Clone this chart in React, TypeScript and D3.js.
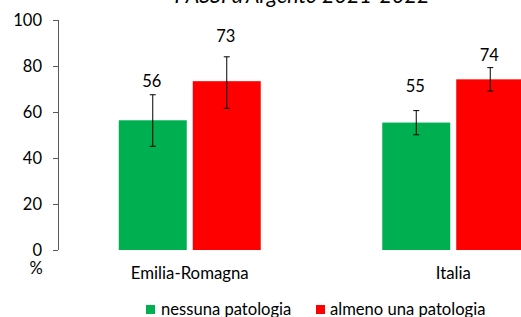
import React from 'react'
import * as d3 from 'd3'

// data
const areas = ['Emilia-Romagna', 'Italia']
const series = ['nessuna patologia', 'almeno una patologia']
const nessuna = [56.4, 55.4]
const almeno = [73.4, 74.2]
const nessunaLow = [45.1, 50.1]
const nessunaHigh = [67.5, 60.6]
const almenoLow = [61.6, 69.1]
const almenoHigh = [84.0, 79.3]
const yTicks = [0, 20, 40, 60, 80, 100]

const colors = ['#00B050', '#FF0000']
// extra lift of the value labels above the error bar top (px), as in the original
const labelLift = [[14, 21], [24, 12]]

const font = 'Lato, "Open Sans", sans-serif'

export default function App() {
  const W = 521
  const H = 317
  const margin = {top: 20, left: 58, bottom: 67}

  const y = d3.scaleLinear().domain([0, 100]).range([H - margin.bottom, margin.top])
  const x0 = d3.scaleBand().domain(areas).range([margin.left, 585])
  const half = 71
  const x1 = d3.scaleBand().domain(series)
    .range([x0.bandwidth() / 2 - half, x0.bandwidth() / 2 + half])
    .paddingInner(6 / 74)

  const rows = areas.map((a, i) => ({
    area: a,
    vals: [
      {s: series[0], v: nessuna[i], lo: nessunaLow[i], hi: nessunaHigh[i]},
      {s: series[1], v: almeno[i], lo: almenoLow[i], hi: almenoHigh[i]},
    ],
  }))

  return (
    <svg width={W} height={H} style={{position: 'absolute', left: 0, top: 0, fontFamily: font}}>
      <rect width={W} height={H} fill="#fff" />
      <text x={302} y={3} textAnchor="middle" fontSize={21.5} fontStyle="italic" fill="#000">
        PASSI d'Argento 2021-2022
      </text>

      {/* y axis */}
      <line x1={margin.left + 0.5} x2={margin.left + 0.5} y1={y(100)} y2={y(0)} stroke="#595959" />
      {yTicks.map(t => (
        <g key={t}>
          <line x1={margin.left - 5} x2={margin.left} y1={Math.round(y(t)) + 0.5} y2={Math.round(y(t)) + 0.5} stroke="#595959" />
          <text x={42} y={y(t)} dy="0.35em" textAnchor="end" fontSize={16.5} fill="#000">{t}</text>
        </g>
      ))}
      <text x={36} y={268} dy="0.35em" textAnchor="middle" fontSize={16.5} fill="#000">%</text>

      {rows.map((r, i) => (
        <g key={r.area} transform={`translate(${x0(r.area)},0)`}>
          {r.vals.map((d, j) => {
            const bx = x1(d.s)!
            const cx = bx + x1.bandwidth() / 2
            return (
              <g key={d.s}>
                <rect x={bx} y={y(d.v)} width={x1.bandwidth()} height={y(0) - y(d.v)} fill={colors[j]} />
                <line x1={cx} x2={cx} y1={y(d.hi)} y2={y(d.lo)} stroke="#000" strokeWidth={1} />
                <line x1={cx - 3} x2={cx + 3} y1={y(d.hi)} y2={y(d.hi)} stroke="#000" />
                <line x1={cx - 3} x2={cx + 3} y1={y(d.lo)} y2={y(d.lo)} stroke="#000" />
                <text x={cx - 1} y={y(d.hi) - labelLift[i][j]} dy="0.35em" textAnchor="middle" fontSize={16.5} fill="#000">
                  {Math.round(d.v)}
                </text>
              </g>
            )
          })}
          <text x={x0.bandwidth() / 2} y={273} dy="0.35em" textAnchor="middle" fontSize={16.8} fill="#000">{r.area}</text>
        </g>
      ))}

      {/* legend */}
      <g>
        <rect x={146} y={305} width={9} height={9} fill={colors[0]} />
        <text x={161} y={315} fontSize={16.6} fill="#000">{series[0]}</text>
        <rect x={316} y={305} width={9} height={9} fill={colors[1]} />
        <text x={330} y={315} fontSize={16.6} fill="#000">{series[1]}</text>
      </g>
    </svg>
  )
}
